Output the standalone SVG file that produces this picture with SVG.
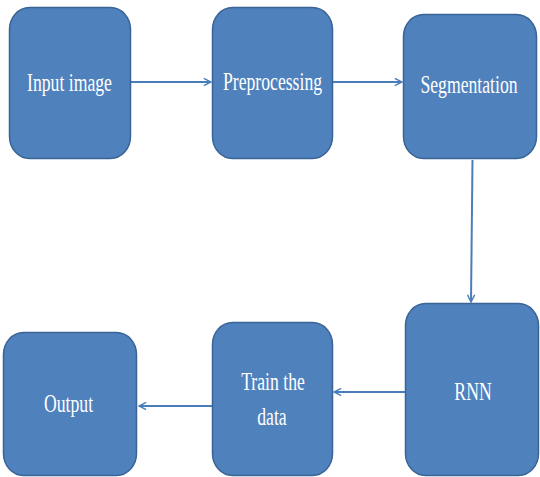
<svg xmlns="http://www.w3.org/2000/svg" width="540" height="477" viewBox="0 0 540 477">
  <defs>
    <style>
      .box { fill: #4F81BD; stroke: #3A6496; stroke-width: 1.5; }
      .lbl { fill: #FFFFFF; font-family: "Liberation Serif", "DejaVu Serif", serif; font-size: 26px; text-anchor: middle; }
      .link { fill: none; stroke: #4A7EBB; stroke-width: 2; marker-end: url(#open); }
    </style>
    <marker id="open" viewBox="0 0 10 10" refX="9" refY="5" markerWidth="9" markerHeight="9" markerUnits="userSpaceOnUse" orient="auto">
      <path d="M1,1 L9,5 L1,9" fill="none" stroke="#4A7EBB" stroke-width="1.6"/>
    </marker>
  </defs>
  <rect width="540" height="477" fill="#FFFFFF"/>

  <g id="connectors">
    <line class="link" x1="131" y1="82" x2="211" y2="82"/>
    <line class="link" x1="333" y1="82" x2="402" y2="82"/>
    <line class="link" x1="472.5" y1="160" x2="471" y2="302"/>
    <line class="link" x1="405" y1="392" x2="334" y2="392"/>
    <line class="link" x1="212" y1="406" x2="139" y2="406"/>
  </g>

  <!-- labels use a narrowed serif: each text is squeezed horizontally about its centre -->
  <g id="input-image">
    <rect class="box" x="9.5" y="7.5" width="121" height="151" rx="20" ry="22"/>
    <text class="lbl" transform="translate(69.5 91) scale(0.68 1)">Input image</text>
  </g>

  <g id="preprocessing">
    <rect class="box" x="212.5" y="7.5" width="120" height="151" rx="20" ry="22"/>
    <text class="lbl" transform="translate(272.5 90) scale(0.68 1)">Preprocessing</text>
  </g>

  <g id="segmentation">
    <rect class="box" x="403.5" y="14.5" width="133" height="144" rx="20" ry="22"/>
    <text class="lbl" transform="translate(469 93) scale(0.68 1)">Segmentation</text>
  </g>

  <g id="rnn">
    <rect class="box" x="405.5" y="303.5" width="133" height="172" rx="20" ry="22"/>
    <text class="lbl" transform="translate(473 400) scale(0.68 1)">RNN</text>
  </g>

  <g id="train-the-data">
    <rect class="box" x="212.5" y="322.5" width="120" height="153" rx="20" ry="22"/>
    <text class="lbl" transform="translate(273 390) scale(0.68 1)">Train the</text>
    <text class="lbl" transform="translate(272 425) scale(0.68 1)">data</text>
  </g>

  <g id="output">
    <rect class="box" x="3.5" y="332.5" width="133" height="143" rx="20" ry="22"/>
    <text class="lbl" transform="translate(68.5 412) scale(0.68 1)">Output</text>
  </g>
</svg>
